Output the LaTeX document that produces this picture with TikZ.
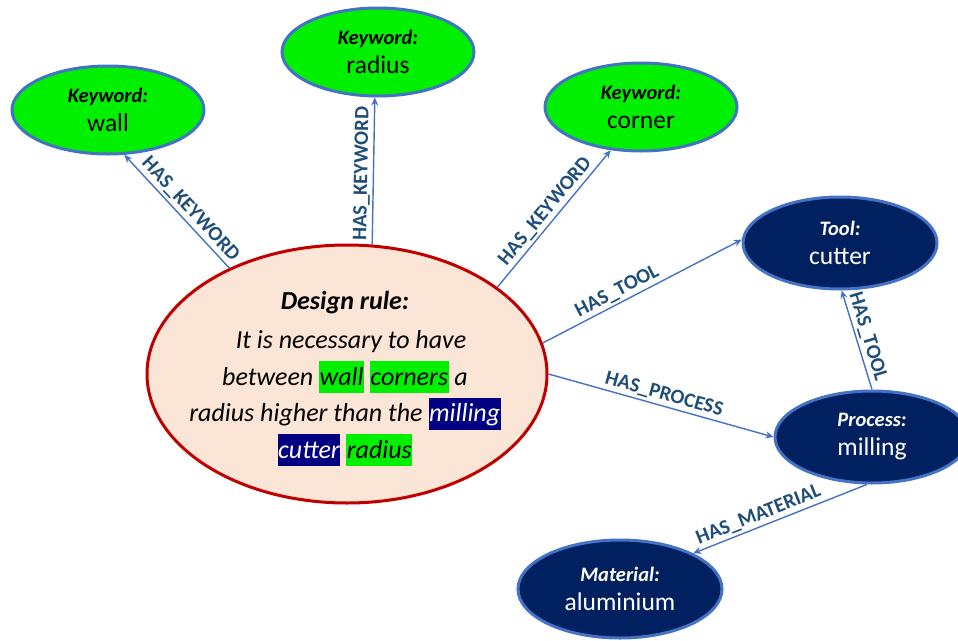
\documentclass[tikz,border=0pt]{standalone}
\usepackage{fontspec}
\setmainfont{Carlito}
\usetikzlibrary{shapes.geometric,arrows.meta}
\definecolor{kwgreen}{RGB}{0,240,0}
\definecolor{nodeblue}{RGB}{68,114,196}
\definecolor{darkfill}{RGB}{0,32,96}
\definecolor{drfill}{RGB}{251,229,214}
\definecolor{drred}{RGB}{192,0,0}
\definecolor{lblcol}{RGB}{31,78,121}
\definecolor{hlnavy}{RGB}{0,0,128}
\newcommand{\hlbox}[3]{{\setlength{\fboxsep}{0pt}\colorbox{#1}{\rule[-8pt]{0pt}{32pt}\hspace{0.5pt}\textcolor{#2}{#3}\hspace{0.5pt}}}}
\newcommand{\nlab}[1]{{\fontsize{20.5}{22}\selectfont\bfseries\itshape #1}}
\begin{document}
\begin{tikzpicture}[x=1pt,y=-1pt,
  kw/.style={ellipse, draw=nodeblue, line width=3pt, fill=kwgreen, minimum width=192pt, minimum height=88pt, inner sep=0pt, align=center, text=black, font=\fontsize{25.5}{29}\selectfont},
  ent/.style={ellipse, draw=nodeblue, line width=3pt, fill=darkfill, minimum width=194pt, minimum height=92pt, inner sep=0pt, align=center, text=white, font=\fontsize{25.5}{29}\selectfont},
  rel/.style={draw=nodeblue, line width=1.4pt, -{Stealth[length=8pt,width=7pt]}},
  lbl/.style={sloped, above, font=\fontsize{20.5}{22}\selectfont\bfseries, text=lblcol, inner sep=2.5pt},
]
\clip (0,0) rectangle (958,640);
\node[kw] (wall) at (108,110) {\nlab{Keyword:}\\wall};
\node[kw] (radius) at (378,52) {\nlab{Keyword:}\\radius};
\node[kw] (corner) at (641,107) {\nlab{Keyword:}\\corner};
\node[ent] (tool) at (840,243) {\nlab{Tool:}\\cutter};
\node[ent] (process) at (872,437) {\nlab{Process:}\\milling};
\node[ent, minimum width=204pt, minimum height=98pt] (material) at (620,589) {\nlab{Material:}\\aluminium};
\node[ellipse, draw=drred, line width=3pt, fill=drfill, minimum width=400pt, minimum height=258pt, inner sep=0pt] (dr) at (347,374) {};
\node[align=center, inner sep=0pt, font=\fontsize{26}{36.5}\selectfont\itshape] (drtext) at (345,379)
 {{\bfseries Design rule:}\\[2.5pt]
  \hspace*{12pt}It is necessary to have\\
  between \hlbox{kwgreen}{black}{wall} \hlbox{kwgreen}{black}{corners} a\\
  radius higher than the \hlbox{hlnavy}{white}{milling}\\
  \hlbox{hlnavy}{white}{cutter} \hlbox{kwgreen}{black}{radius}};
\draw[rel] (dr.138) -- node[lbl, pos=0.45]{HAS\_KEYWORD} (wall.290);
\draw[rel] (dr.79.5) -- node[lbl, pos=0.48]{HAS\_KEYWORD} (radius.266);
\draw[rel] (dr.30.3) -- node[lbl, pos=0.5]{HAS\_KEYWORD} (corner.235);
\draw[rel] (dr.9.6) -- node[lbl, pos=0.4]{HAS\_TOOL} (tool.178);
\draw[rel] (dr.0) -- node[lbl, pos=0.5]{HAS\_PROCESS} (process.180);
\draw[rel] (process.90) -- node[lbl, pos=0.5]{HAS\_TOOL} (tool.272);
\draw[rel] (process.264) -- node[lbl, pos=0.6]{HAS\_MATERIAL} (material.26);
\end{tikzpicture}
\end{document}
